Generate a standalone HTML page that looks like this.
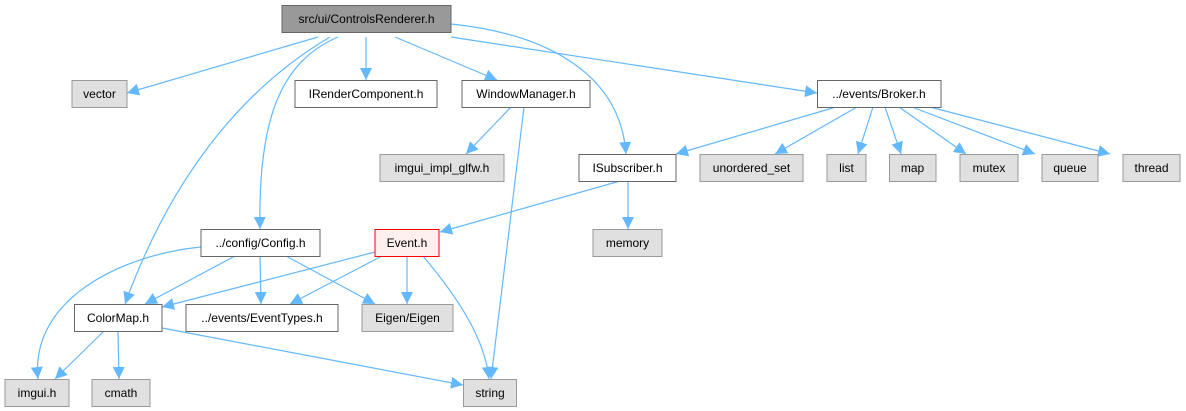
<!DOCTYPE html>
<html><head><meta charset="utf-8"><style>
html,body{margin:0;padding:0;background:#fff;width:1186px;height:411px;overflow:hidden}
svg text{font-family:"Liberation Sans",Arial,sans-serif;font-size:12px;text-anchor:middle}
</style></head><body>
<svg width="1186" height="411" viewBox="0 0 1186 411" xmlns="http://www.w3.org/2000/svg">
<defs><marker id="a" viewBox="0 0 10 10" refX="10" refY="5" markerWidth="12" markerHeight="12" markerUnits="userSpaceOnUse" orient="auto"><path d="M0,0L10,5L0,10z" fill="#63b8ff"/></marker></defs>
<g fill="none" stroke="#63b8ff" stroke-width="1.2" marker-end="url(#a)">
<path d="M318,37L127,93"/>
<path d="M366,37L366,80"/>
<path d="M395,37L497,80"/>
<path d="M451,37L817,93"/>
<path d="M451,24C540,33 620,70 626,154"/>
<path d="M338,37C280,62 258,120 260,229"/>
<path d="M330,37C240,90 170,180 125,304"/>
<path d="M511,107L466,154"/>
<path d="M524,107L491,379"/>
<path d="M836,107L676,154"/>
<path d="M857,107L775,154"/>
<path d="M873,107L858,154"/>
<path d="M885,107L901,154"/>
<path d="M899,107L966,154"/>
<path d="M912,107L1035,154"/>
<path d="M930,107L1110,154"/>
<path d="M620,181L440,232"/>
<path d="M628,181L628,229"/>
<path d="M201,247C120,255 30,300 38,379"/>
<path d="M235,256L145,304"/>
<path d="M260,256L261,304"/>
<path d="M286,256L375,304"/>
<path d="M375,252L162,307"/>
<path d="M382,256L290,304"/>
<path d="M407,256L407,304"/>
<path d="M423,256C460,300 485,340 489,379"/>
<path d="M104,331L55,379"/>
<path d="M118,331L119,379"/>
<path d="M162,328L463,385"/>
</g>
<g stroke-width="1">
<rect x="282" y="5.5" width="169" height="27" fill="#999" stroke="#666"/>
<rect x="72" y="80.5" width="55" height="27" fill="#e0e0e0" stroke="#999"/>
<rect x="295" y="80.5" width="142" height="27" fill="#fff" stroke="#666"/>
<rect x="462" y="80.5" width="128" height="27" fill="#fff" stroke="#666"/>
<rect x="817.5" y="80.5" width="123.5" height="27" fill="#fff" stroke="#666"/>
<rect x="380" y="154.5" width="124" height="27" fill="#e0e0e0" stroke="#999"/>
<rect x="579" y="154.5" width="97" height="27" fill="#fff" stroke="#666"/>
<rect x="700" y="154.5" width="103" height="27" fill="#e0e0e0" stroke="#999"/>
<rect x="827" y="154.5" width="39" height="27" fill="#e0e0e0" stroke="#999"/>
<rect x="889.5" y="154.5" width="46.5" height="27" fill="#e0e0e0" stroke="#999"/>
<rect x="960" y="154.5" width="58" height="27" fill="#e0e0e0" stroke="#999"/>
<rect x="1042" y="154.5" width="56" height="27" fill="#e0e0e0" stroke="#999"/>
<rect x="1123" y="154.5" width="57" height="27" fill="#e0e0e0" stroke="#999"/>
<rect x="201" y="229.5" width="119" height="27" fill="#fff" stroke="#666"/>
<rect x="375" y="229.5" width="64" height="27" fill="#fff0f0" stroke="#f00"/>
<rect x="593" y="229.5" width="69" height="27" fill="#e0e0e0" stroke="#999"/>
<rect x="74.5" y="304.5" width="87.5" height="27" fill="#fff" stroke="#666"/>
<rect x="186" y="304.5" width="152" height="27" fill="#fff" stroke="#666"/>
<rect x="362" y="304.5" width="91" height="27" fill="#e0e0e0" stroke="#999"/>
<rect x="5" y="379.5" width="64" height="27" fill="#e0e0e0" stroke="#999"/>
<rect x="92" y="379.5" width="58" height="27" fill="#e0e0e0" stroke="#999"/>
<rect x="463.5" y="379.5" width="53" height="27" fill="#e0e0e0" stroke="#999"/>
</g>
<g fill="#000">
<text x="366.5" y="23">src/ui/ControlsRenderer.h</text>
<text x="99.5" y="98">vector</text>
<text x="366" y="98">IRenderComponent.h</text>
<text x="526" y="98">WindowManager.h</text>
<text x="879" y="98">../events/Broker.h</text>
<text x="442" y="172">imgui_impl_glfw.h</text>
<text x="627.5" y="172">ISubscriber.h</text>
<text x="751.5" y="172">unordered_set</text>
<text x="846.5" y="172">list</text>
<text x="912.5" y="172">map</text>
<text x="989" y="172">mutex</text>
<text x="1070" y="172">queue</text>
<text x="1151.5" y="172">thread</text>
<text x="260.5" y="247">../config/Config.h</text>
<text x="407" y="247">Event.h</text>
<text x="627.5" y="247">memory</text>
<text x="118" y="322">ColorMap.h</text>
<text x="262" y="322">../events/EventTypes.h</text>
<text x="407.5" y="322">Eigen/Eigen</text>
<text x="37" y="397">imgui.h</text>
<text x="121" y="397">cmath</text>
<text x="490" y="397">string</text>
</g>
</svg>
</body></html>
